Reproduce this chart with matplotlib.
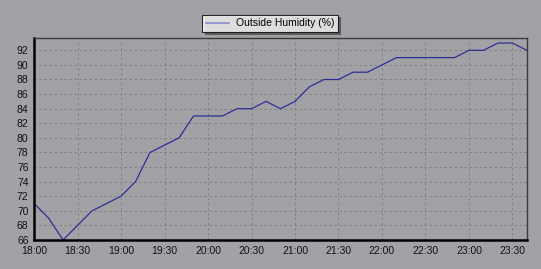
import numpy as np
import matplotlib
matplotlib.use("Agg")
import matplotlib.pyplot as plt
import matplotlib.patheffects as pe

# Lecturas cada 10 minutos, de 18:00 a 23:40 (minutos desde las 18:00)
minutes = np.arange(0, 350, 10)
humidity = [71, 69, 66, 68, 70, 71, 72, 74, 78, 79, 80, 83, 83, 83, 84, 84, 85, 84,
            85, 87, 88, 88, 89, 89, 90, 91, 91, 91, 91, 91, 92, 92, 93, 93, 92]
tick_minutes = list(range(0, 331, 30))
tick_labels = ["18:00", "18:30", "19:00", "19:30", "20:00", "20:30", "21:00",
               "21:30", "22:00", "22:30", "23:00", "23:30"]
y_ticks = list(range(66, 93, 2))

bg = "#a2a2a6"
plt.rcParams["font.family"] = ["Liberation Sans", "DejaVu Sans"]

fig = plt.figure(figsize=(5.41, 2.69), dpi=100, facecolor=bg)
ax = fig.add_axes([0.063, 0.108, 0.911, 0.751], facecolor=bg)

ax.plot(minutes, humidity, color="#2e2e96", linewidth=0.9, label="Outside Humidity (%)")

ax.set_xlim(0, 340)
ax.set_ylim(66, 93.7)
ax.set_xticks(tick_minutes)
ax.set_xticklabels(tick_labels)
ax.set_yticks(y_ticks)
ax.tick_params(labelsize=7.5, length=0, pad=4, colors="#111111")

ax.grid(True, color="#7e7e7e", linestyle=(0, (3, 3)), linewidth=0.6)

# Bordes del area de trazado
ax.spines["bottom"].set_linewidth(1.8)
ax.spines["bottom"].set_color("black")
ax.spines["left"].set_linewidth(1.8)
ax.spines["left"].set_color("black")
ax.spines["left"].set_linestyle((0, (1, 1)))
ax.spines["top"].set_color("#3a3a3a")
ax.spines["top"].set_linewidth(1.0)
ax.spines["right"].set_color("#3a3a3a")
ax.spines["right"].set_linewidth(1.0)

leg = ax.legend(loc="lower center", bbox_to_anchor=(0.479, 1.03), fontsize=7.5,
                frameon=True, fancybox=False, shadow=False, handlelength=2.2,
                borderpad=0.35, handletextpad=0.7, borderaxespad=0)
leg.get_frame().set_facecolor("white")
leg.get_frame().set_edgecolor("black")
leg.get_frame().set_linewidth(0.8)
leg.get_frame().set_path_effects([pe.SimplePatchShadow(offset=(2, -2), shadow_rgbFace="#555555", alpha=0.9), pe.Normal()])
for line in leg.get_lines():
    line.set_color("#8a8ad0")
    line.set_linewidth(1.2)

fig.savefig("out.png", dpi=100, facecolor=bg)
